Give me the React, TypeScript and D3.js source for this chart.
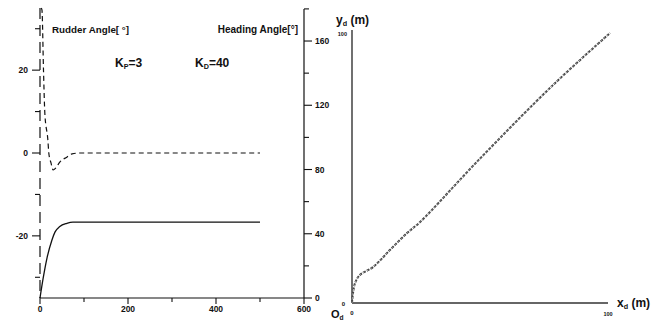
import React, { useEffect, useRef } from "react";
import * as d3 from "d3";

// time response (left panel)
const timeTicks = [0, 200, 400, 600];
const timeMinor = [100, 300, 500];
const rudderTicks = [20, 0, -20];
const rudderMinor = [30, 10, -10, -30];
const headingTicks = [0, 40, 80, 120, 160];
const headingMinor = [20, 60, 100, 140, 180];

const rudderTime = [3, 4.5, 8, 11, 18, 20, 25, 30, 36, 45, 61, 73, 90, 500];
const rudderAngle = [35, 34.5, 19.8, 9.6, 3, 0, -2.4, -4.1, -3.6, -2.2, -1, -0.2, 0, 0];

const headingTime = [0, 7, 16, 27, 34, 45, 61, 75, 500];
const headingAngle = [0, 12, 25, 36, 41, 44.5, 46.5, 47.2, 47.3];

// trajectory (right panel)
const trackX = [0, 0.4, 1.2, 3.1, 8.2, 14.8, 21.5, 26.6, 49.5, 78.5, 100.8];
const trackY = [0, 3.7, 7.4, 10.4, 13.3, 19.6, 25.9, 30, 53, 80.7, 100];

const FONT = "'Liberation Sans', Arial, sans-serif";
const INK = "#111";

const App: React.FC = () => {
  const ref = useRef<SVGSVGElement | null>(null);

  useEffect(() => {
    const svg = d3.select(ref.current);
    svg.selectAll("*").remove();

    const t = d3.scaleLinear().domain([0, 600]).range([40, 304]);
    const rud = d3.scaleLinear().domain([-35, 35]).range([298, 8]);
    const hd = d3.scaleLinear().domain([0, 180]).range([298, 8.9]);

    const g = svg.append("g");

    // left rudder axis (broken look of the scan)
    g.append("line")
      .attr("x1", 40).attr("x2", 40)
      .attr("y1", rud(35)).attr("y2", rud(-35))
      .attr("stroke", INK).attr("stroke-width", 1.2)
      .attr("stroke-dasharray", "11,6");
    rudderTicks.forEach((v) => {
      g.append("line").attr("x1", 32).attr("x2", 40)
        .attr("y1", rud(v)).attr("y2", rud(v))
        .attr("stroke", INK).attr("stroke-width", 1.1);
      g.append("text").attr("x", 28).attr("y", rud(v) + 3)
        .attr("text-anchor", "end").attr("font-size", 8.5)
        .attr("font-weight", "bold").attr("font-family", FONT)
        .attr("fill", INK).text(v);
    });
    rudderMinor.forEach((v) => {
      g.append("line").attr("x1", 35).attr("x2", 40)
        .attr("y1", rud(v)).attr("y2", rud(v))
        .attr("stroke", INK).attr("stroke-width", 1.1);
    });

    // right heading axis
    g.append("line")
      .attr("x1", 304).attr("x2", 304)
      .attr("y1", hd(180)).attr("y2", hd(0))
      .attr("stroke", INK).attr("stroke-width", 1.2);
    headingTicks.forEach((v) => {
      g.append("line").attr("x1", 304).attr("x2", 312)
        .attr("y1", hd(v)).attr("y2", hd(v))
        .attr("stroke", INK).attr("stroke-width", 1.1);
      g.append("text").attr("x", 315).attr("y", hd(v) + 3)
        .attr("font-size", 8.5).attr("font-weight", "bold")
        .attr("font-family", FONT).attr("fill", INK).text(v);
    });
    headingMinor.forEach((v) => {
      g.append("line").attr("x1", 304).attr("x2", 309)
        .attr("y1", hd(v)).attr("y2", hd(v))
        .attr("stroke", INK).attr("stroke-width", 1.1);
    });

    // time axis
    g.append("line")
      .attr("x1", t(0)).attr("x2", t(600))
      .attr("y1", 298).attr("y2", 298)
      .attr("stroke", INK).attr("stroke-width", 1.2);
    timeTicks.forEach((v) => {
      g.append("line").attr("x1", t(v)).attr("x2", t(v))
        .attr("y1", 298).attr("y2", 304)
        .attr("stroke", INK).attr("stroke-width", 1.1);
      g.append("text").attr("x", t(v)).attr("y", 312)
        .attr("text-anchor", "middle").attr("font-size", 8.5)
        .attr("font-weight", "bold").attr("font-family", FONT)
        .attr("fill", INK).text(v);
    });
    timeMinor.forEach((v) => {
      g.append("line").attr("x1", t(v)).attr("x2", t(v))
        .attr("y1", 298).attr("y2", 302)
        .attr("stroke", INK).attr("stroke-width", 1.1);
    });

    // curves
    const rudderLine = d3.line<number>()
      .x((_, i) => t(rudderTime[i]))
      .y((d) => rud(d))
      .curve(d3.curveMonotoneX);
    g.append("path")
      .attr("d", rudderLine(rudderAngle))
      .attr("fill", "none").attr("stroke", INK).attr("stroke-width", 1.2)
      .attr("stroke-dasharray", "5,3.5");

    const headingLine = d3.line<number>()
      .x((_, i) => t(headingTime[i]))
      .y((d) => hd(d))
      .curve(d3.curveMonotoneX);
    g.append("path")
      .attr("d", headingLine(headingAngle))
      .attr("fill", "none").attr("stroke", INK).attr("stroke-width", 1.3);

    const label = (x: number, y: number, s: string, size: number, anchor = "start") =>
      g.append("text").attr("x", x).attr("y", y).attr("text-anchor", anchor)
        .attr("font-size", size).attr("font-weight", "bold")
        .attr("font-family", FONT).attr("fill", INK).text(s);

    label(52, 33, "Rudder Angle[ °]", 9.8);
    label(298, 33, "Heading Angle[°]", 10, "end");

    const sub = (x: number, y: number, main: string, s: string, rest: string, size: number, drop = 2) => {
      const tx = g.append("text").attr("x", x).attr("y", y)
        .attr("font-size", size).attr("font-weight", "bold")
        .attr("font-family", FONT).attr("fill", INK);
      tx.append("tspan").text(main);
      tx.append("tspan").attr("font-size", size * 0.6).attr("dy", drop).text(s);
      if (rest) tx.append("tspan").attr("dy", -drop).text(rest);
    };
    sub(115, 67, "K", "P", "=3", 12);
    sub(195, 67, "K", "D", "=40", 12);

    // right panel
    const xd = d3.scaleLinear().domain([0, 100]).range([352, 608]);
    const yd = d3.scaleLinear().domain([0, 100]).range([303, 33]);

    g.append("line")
      .attr("x1", xd(0)).attr("x2", xd(0)).attr("y1", 30).attr("y2", yd(0))
      .attr("stroke", INK).attr("stroke-width", 1.2);
    g.append("line")
      .attr("x1", xd(0)).attr("x2", xd(100)).attr("y1", yd(0)).attr("y2", yd(0))
      .attr("stroke", "#333").attr("stroke-width", 1.5);

    const trackLine = d3.line<number>()
      .x((d) => xd(d))
      .y((_, i) => yd(trackY[i]))
      .curve(d3.curveCatmullRom);
    g.append("path")
      .attr("d", trackLine(trackX))
      .attr("fill", "none").attr("stroke", "#444").attr("stroke-width", 2)
      .attr("stroke-dasharray", "3,1.2");
    g.append("path")
      .attr("d", trackLine(trackX))
      .attr("fill", "none").attr("stroke", "#fff").attr("stroke-width", 0.6)
      .attr("stroke-dasharray", "1.5,2.7");

    label(347, 36, "100", 5.5, "end");
    label(345, 306, "0", 6, "end");
    label(xd(0), 315, "0", 6, "middle");
    label(xd(100), 316, "100", 5.5, "middle");
    sub(336, 24, "y", "d", " (m)", 12);
    sub(617, 307, "x", "d", " (m)", 12);
    sub(331, 318, "O", "d", "", 11, 1.5);
  }, []);

  return (
    <svg
      ref={ref}
      width={663}
      height={322}
      style={{ position: "absolute", left: 0, top: 0, background: "#fff" }}
    />
  );
};

export default App;
